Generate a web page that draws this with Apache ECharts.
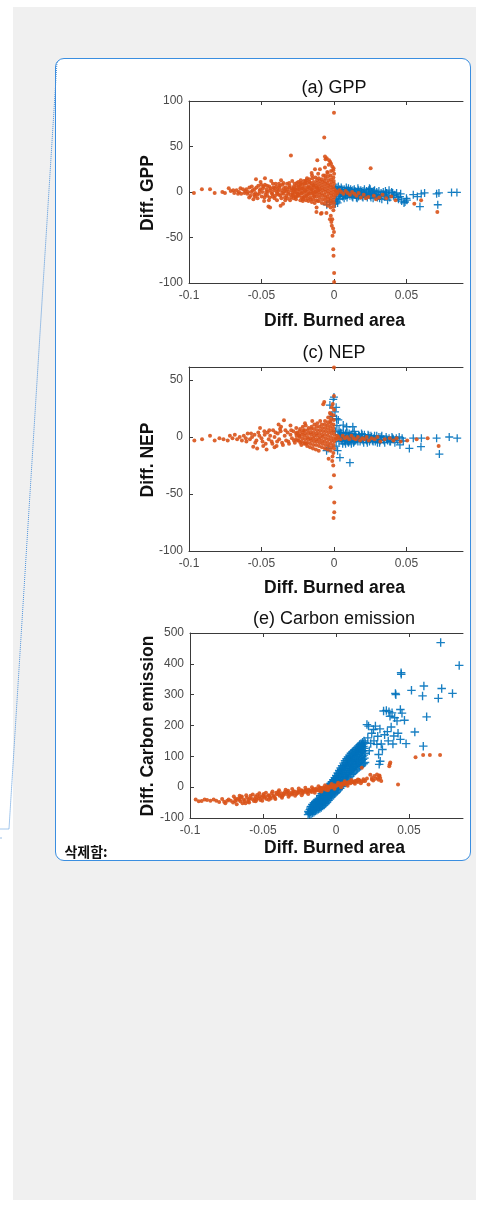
<!DOCTYPE html>
<html>
<head>
<meta charset="UTF-8">
<script src="https://cdn.jsdelivr.net/npm/echarts@6/dist/echarts.min.js"></script>
<style>
  html, body { margin: 0; padding: 0; background: #fff; }
  #page { position: absolute; left: 13px; top: 7px; width: 463px; height: 1193px; background: #f0f0f0; }
  #box { position: absolute; left: 55px; top: 58px; width: 414px; height: 801px; background: #fff;
         border: 1.3px solid #3a8ee0; border-radius: 9px; }
  #chart { position: absolute; left: 0; top: 0; width: 483px; height: 1214px; }
</style>
</head>
<body>
<div id="page"></div>
<div id="box"></div>
<div id="chart"></div>

<script type="text/javascript">
    // tick labels
    var xTicks = [-0.1, -0.05, 0, 0.05];
    var gppTicks = [-100, -50, 0, 50, 100];
    var nepTicks = [-100, -50, 0, 50];
    var ceTicks = [-100, 0, 100, 200, 300, 400, 500];

    // (a) GPP  -- [diff burned area, diff GPP]
    var gppOrange = [
        [-0.0966,-1],[-0.0911,3],[-0.0855,3],[-0.0823,-1],[-0.0770,0],[-0.0752,-1],[-0.0726,4],[-0.0712,1],[-0.0695,2],[-0.0688,-1],
        [-0.0672,2],[-0.0662,-2],[-0.0655,0],[-0.0645,4],[-0.0640,-2],[-0.0628,3],[-0.0618,-1],[-0.0612,1],[-0.0604,3],[-0.0598,-2],
        [-0.0592,0],[-0.0583,5],[-0.0576,-4],[-0.0570,0],[-0.0561,2],[-0.0556,-8],[-0.0548,3],[-0.0545,-5],[-0.0543,-1],[-0.0538,14],
        [-0.0535,5],[-0.0530,-3],[-0.0522,7],[-0.0517,-2],[-0.0513,1],[-0.0509,3],[-0.0506,11],[-0.0498,-5],[-0.0494,0],[-0.0490,4],
        [-0.0486,6],[-0.0482,-10],[-0.0476,8],[-0.0476,15],[-0.0472,-3],[-0.0468,0],[-0.0464,3],[-0.0460,-4],[-0.0456,0],[-0.0452,-16],
        [-0.0447,6],[-0.0443,-6],[-0.0441,-17],[-0.0440,2],[-0.0437,4],[-0.0433,12],[-0.0429,-1],[-0.0426,-2],[-0.0421,9],[-0.0418,5],
        [-0.0414,2],[-0.0410,-7],[-0.0406,-4],[-0.0402,9],[-0.0398,6],[-0.0396,0],[-0.0391,-2],[-0.0388,3],[-0.0384,1],[-0.0381,-3],
        [-0.0377,5],[-0.0373,7],[-0.0369,-4],[-0.0368,-15],[-0.0365,13],[-0.0361,2],[-0.0358,-1],[-0.0354,8],[-0.0351,-13],[-0.0347,-2],
        [-0.0345,4],[-0.0341,1],[-0.0338,-6],[-0.0334,5],[-0.0331,1],[-0.0327,-4],[-0.0324,9],[-0.0320,3],[-0.0317,-2],[-0.0313,0],
        [-0.0310,5],[-0.0306,7],[-0.0303,-9],[-0.0299,-3],[-0.0297,40],[-0.0294,2],[-0.0291,4],[-0.0288,12],[-0.0285,-1],[-0.0282,-4],
        [-0.0276,6],[-0.0272,9],[-0.0269,0],[-0.0265,-6],[-0.0262,-8],[-0.0256,10],[-0.0252,-2],[-0.0249,3],[-0.0246,11],[-0.0242,-3],
        [-0.0236,7],[-0.0232,-9],[-0.0229,13],[-0.0226,10],[-0.0223,-1],[-0.0216,4],[-0.0213,-8],[-0.0211,-6],[-0.0207,12],[-0.0204,9],
        [-0.0198,1],[-0.0193,-9],[-0.0191,-4],[-0.0188,13],[-0.0186,15],[-0.0179,5],[-0.0176,-10],[-0.0173,-2],[-0.0170,14],[-0.0167,11],
        [-0.0161,-8],[-0.0156,3],[-0.0154,21],[-0.0153,-11],[-0.0151,18],[-0.0148,15],[-0.0146,-1],[-0.0141,7],[-0.0136,-5],[-0.0133,-12],
        [-0.0131,25],[-0.0128,16],[-0.0127,0],[-0.0121,-22],[-0.0120,-17],[-0.0117,5],[-0.0115,35],[-0.0112,-10],[-0.0109,20],[-0.0105,2],
        [-0.0097,25],[-0.0090,-24],[-0.0085,-23],[-0.0074,18],[-0.0067,60],[-0.0062,39],[-0.0062,27],[-0.0058,36],[-0.0052,-23],[-0.0050,37],
        [-0.0046,22],[-0.0036,30],[-0.0034,35],[-0.0026,33],[-0.0020,31],[-0.0012,28],[-0.0005,24],
        [-0.0585,-6],[-0.0567,6],[-0.0551,-3],[-0.0527,-7],[-0.0502,8],[-0.0479,-6],[-0.0461,7],[-0.0449,-9],[-0.0423,-5],[-0.0409,4],
        [-0.0393,-9],[-0.0379,9],[-0.0363,-7],[-0.0349,10],[-0.0336,-9],[-0.0322,-7],[-0.0309,10],[-0.0296,-6],[-0.0279,-7],[-0.0270,3],
        [-0.0253,-4],[-0.0233,9],[-0.0215,-10],[-0.0196,12],
        // dense wedge near zero
        [-0.0282,-3],[-0.0279,1],[-0.0276,4],
        [-0.0262,-5],[-0.0259,-1],[-0.0263,3],[-0.0257,7],
        [-0.0243,-4],[-0.0241,0],[-0.0238,3],[-0.0244,6],
        [-0.0223,-6],[-0.0221,-2],[-0.0219,1],[-0.0224,4],[-0.0218,8],
        [-0.0203,-5],[-0.0201,-1],[-0.0199,2],[-0.0204,5],[-0.0197,9],
        [-0.0183,-7],[-0.0181,-3],[-0.0179,0],[-0.0184,3],[-0.0178,6],[-0.0182,10],
        [-0.0163,-6],[-0.0161,-2],[-0.0159,1],[-0.0164,4],[-0.0158,7],[-0.0162,10],
        [-0.0143,-8],[-0.0141,-4],[-0.0139,-1],[-0.0144,2],[-0.0138,5],[-0.0142,8],[-0.0140,11],
        [-0.0123,-9],[-0.0121,-5],[-0.0119,-2],[-0.0124,1],[-0.0118,4],[-0.0122,7],[-0.0120,10],[-0.0117,13],
        [-0.0103,-10],[-0.0101,-6],[-0.0099,-3],[-0.0104,0],[-0.0098,3],[-0.0102,6],[-0.0100,9],[-0.0097,12],[-0.0105,15],
        [-0.0083,-12],[-0.0081,-8],[-0.0079,-4],[-0.0084,-1],[-0.0078,2],[-0.0082,5],[-0.0080,8],[-0.0077,11],[-0.0085,14],
        [-0.0063,-13],[-0.0061,-9],[-0.0059,-6],[-0.0064,-3],[-0.0058,0],[-0.0062,3],[-0.0060,6],[-0.0057,9],[-0.0065,12],[-0.0059,15],[-0.0061,18],
        [-0.0043,-15],[-0.0041,-11],[-0.0039,-8],[-0.0044,-5],[-0.0038,-2],[-0.0042,1],[-0.0040,4],[-0.0037,7],[-0.0045,10],[-0.0039,13],[-0.0041,17],[-0.0043,21],
        [-0.0023,-17],[-0.0021,-13],[-0.0019,-10],[-0.0024,-7],[-0.0018,-4],[-0.0022,-1],[-0.0020,2],[-0.0017,5],[-0.0025,8],[-0.0019,11],[-0.0021,14],[-0.0023,18],[-0.0020,23],
        [-0.0004,-20],[-0.0002,-16],[0.0000,-12],[-0.0005,-9],[0.0001,-6],[-0.0003,-3],[-0.0001,0],[0.0002,3],[-0.0006,6],[0.0000,9],[-0.0002,12],[-0.0004,16],[0.0001,20],[-0.0003,26],
        // vertical spike
        [0.0000,87],[-0.0028,-30],[-0.0018,-33],[-0.0015,-37],[-0.0006,-40],[0.0000,-44],[-0.0010,-48],[-0.0022,-26],[-0.0012,-30],
        [-0.0005,-63],[-0.0003,-70],[0.0001,-89],[0.0001,-99],
        // thin strip into the blue band
        [0.0012,1],[0.0015,-3],[0.0020,0],[0.0025,-1],[0.0038,2],[0.0050,0],[0.0065,-2],[0.0080,1],[0.0095,-1],[0.0110,-3],
        [0.0125,0],[0.0140,-2],[0.0155,-4],[0.0170,-1],[0.0185,-6],[0.0205,-3],[0.0220,-7],[0.0237,-5.5],[0.0253,26],[0.0275,-4],
        [0.0290,-8],[0.0312,-6],[0.0335,-3],[0.0360,-7],[0.0395,-5],[0.0425,-9],[0.0554,-13],[0.0601,-9],[0.0713,-22]
    ];
    var gppBlue = [
        [-0.0050,-14],[-0.0030,-11],[0.0010,-13],[0.0020,-10],[0.0015,-7],[0.0030,-5],[0.0020,5],[0.0040,3],[0.0025,-12],[0.0035,-8],
        [0.0010,4],[0.0030,6],[0.0040,-3],[0.0050,5],[0.0050,-1],[0.0060,-5],[0.0060,1],[0.0070,3],[0.0070,-7],[0.0080,-2],
        [0.0080,-4],[0.0090,-6],[0.0090,2],[0.0100,4],[0.0110,-4],[0.0110,-1],[0.0120,1],[0.0120,-3],[0.0130,-6],[0.0130,2],
        [0.0140,3],[0.0140,-1],[0.0150,-3],[0.0160,-7],[0.0160,0],[0.0170,2],[0.0170,-5],[0.0180,-4],[0.0190,0],[0.0190,-3],
        [0.0200,-6],[0.0200,1],[0.0210,3],[0.0220,-2],[0.0220,-4],[0.0230,-6],[0.0240,2],[0.0240,-1],[0.0250,-4],[0.0250,3],
        [0.0260,0],[0.0270,-7],[0.0270,-2],[0.0280,2],[0.0290,-3],[0.0300,-6],[0.0310,1],[0.0320,-4],[0.0330,-8],[0.0340,0],
        [0.0350,-5],[0.0360,-1],[0.0363,-1],[0.0370,-9],[0.0380,2],[0.0398,0],[0.0410,-4],[0.0432,-1],[0.0445,-8],[0.0455,-5],
        [0.0467,-10],[0.0483,-12],[0.0490,-11],[0.0500,-7],[0.0503,-9],[0.0547,-3],[0.0575,-5],[0.0593,-16],[0.0602,-2],[0.0625,-1],
        [0.0708,-2],[0.0716,-14],[0.0724,-1],[0.0811,-0.5],[0.0848,-0.5],
        [0.0035,1],[0.0045,-2],[0.0055,3],[0.0065,-4],[0.0075,0],[0.0085,5],[0.0095,-3],[0.0105,0],[0.0115,3],[0.0125,-5],
        [0.0135,-2],[0.0145,1],[0.0155,-6],[0.0165,4],[0.0175,-1],[0.0185,2],[0.0195,-5],[0.0205,-1],[0.0215,-4],[0.0225,1],
        [0.0235,-3],[0.0245,4],[0.0255,-6],[0.0265,-2],[0.0275,1],[0.0285,-5],[0.0295,0],[0.0305,-3],[0.0315,-7],[0.0325,-1],
        [0.0345,-3],[0.0355,1],[0.0375,-4],[0.0385,-6],[0.0405,-1],[0.0420,-3],[0.0440,-6],[0.0460,-2]
    ];

    // (c) NEP  -- [diff burned area, diff NEP]
    var nepOrange = [
        [-0.0963,-3],[-0.0910,-2],[-0.0855,1],[-0.0823,-3],[-0.0790,-1],[-0.0762,-2],[-0.0733,-3],[-0.0718,1],[-0.0700,-1],[-0.0684,2],
        [-0.0668,-2],[-0.0650,0],[-0.0635,-3],[-0.0622,1],[-0.0608,-1],[-0.0595,3],[-0.0580,-2],[-0.0565,0],[-0.0557,-8.5],[-0.0548,2],
        [-0.0535,-3],[-0.0530,-10],[-0.0522,4],[-0.0510,8],[-0.0500,-1],[-0.0488,-8],[-0.0480,5],[-0.0478,2],[-0.0465,-11],[-0.0458,4],
        [-0.0450,-2],[-0.0440,1],[-0.0430,-4],[-0.0420,6],[-0.0410,0],[-0.0410,-9],[-0.0396,-8],[-0.0388,3],[-0.0382,11],[-0.0378,-2],
        [-0.0368,5],[-0.0365,9],[-0.0358,-5],[-0.0345,14.6],[-0.0340,1],[-0.0330,-3],[-0.0320,4],[-0.0310,-6],[-0.0300,2],[-0.0300,10],
        [-0.0290,-1],[-0.0280,5],[-0.0270,-5],[-0.0260,8],[-0.0250,-3],[-0.0240,1],[-0.0234,7],[-0.0225,-7],[-0.0215,9],[-0.0205,-6],
        [-0.0200,12],[-0.0195,10],[-0.0185,-8],[-0.0175,8],[-0.0165,-9],[-0.0154,9],[-0.0150,14],[-0.0145,-10],[-0.0135,11],[-0.0125,-11],
        [-0.0115,12],[-0.0105,-12],[-0.0095,14],[-0.0074,28.7],[-0.0067,30.7],[-0.0028,21],[-0.0025,14],[-0.0015,26],[-0.0008,29],
        [-0.0604,-4],[-0.0572,3],[-0.0543,-5],[-0.0515,1],[-0.0493,-4],[-0.0471,-6],[-0.0446,6],[-0.0425,-6],[-0.0403,4],[-0.0392,-4],
        [-0.0372,7],[-0.0352,-7],[-0.0335,6],[-0.0315,-4],[-0.0295,6],[-0.0276,-3],[-0.0255,4],[-0.0232,-5],[-0.0212,6],[-0.0192,-6],
        // dense wedge near zero
        [-0.0262,-2],[-0.0258,1],[-0.0261,3],
        [-0.0243,-3],[-0.0239,0],[-0.0242,2],[-0.0238,5],
        [-0.0223,-4],[-0.0219,-1],[-0.0222,2],[-0.0218,4],
        [-0.0203,-5],[-0.0199,-2],[-0.0202,1],[-0.0198,3],[-0.0201,6],
        [-0.0183,-5],[-0.0179,-2],[-0.0182,0],[-0.0178,3],[-0.0181,6],
        [-0.0163,-6],[-0.0159,-3],[-0.0162,-1],[-0.0158,2],[-0.0161,4],[-0.0157,7],
        [-0.0143,-7],[-0.0139,-4],[-0.0142,-1],[-0.0138,1],[-0.0141,4],[-0.0137,7],
        [-0.0123,-7],[-0.0119,-4],[-0.0122,-2],[-0.0118,1],[-0.0121,3],[-0.0117,6],[-0.0120,9],
        [-0.0103,-8],[-0.0099,-5],[-0.0102,-2],[-0.0098,0],[-0.0101,3],[-0.0097,6],[-0.0100,9],
        [-0.0083,-9],[-0.0079,-6],[-0.0082,-3],[-0.0078,0],[-0.0081,2],[-0.0077,5],[-0.0080,8],[-0.0084,11],
        [-0.0063,-10],[-0.0059,-7],[-0.0062,-4],[-0.0058,-1],[-0.0061,2],[-0.0057,5],[-0.0060,8],[-0.0064,11],[-0.0062,14],
        [-0.0043,-11],[-0.0039,-8],[-0.0042,-5],[-0.0038,-2],[-0.0041,1],[-0.0037,4],[-0.0040,7],[-0.0044,10],[-0.0042,13],[-0.0040,17],
        [-0.0023,-12],[-0.0019,-9],[-0.0022,-6],[-0.0018,-3],[-0.0021,0],[-0.0017,3],[-0.0020,6],[-0.0024,9],[-0.0022,12],[-0.0020,16],[-0.0021,20],
        [-0.0004,-14],[0.0000,-10],[-0.0003,-7],[0.0001,-4],[-0.0002,-1],[0.0002,2],[-0.0001,5],[-0.0005,8],[-0.0003,11],[-0.0001,15],[-0.0004,19],[0.0000,24],
        [0.0018,-2],[0.0021,1],
        // vertical spike
        [0.0000,36],[0.0000,61],[-0.0010,-17],[-0.0037,-19],[-0.0012,-21],[-0.0005,-25],[0.0000,-33.6],[-0.0023,-44],[0.0002,-57.5],
        [0.0002,-66],[-0.0003,-71],
        // strip to the right
        [0.0015,-1],[0.0030,0],[0.0045,-2],[0.0060,1],[0.0075,-1],[0.0090,0],[0.0105,-2],[0.0120,1],[0.0135,-1],[0.0150,-2],
        [0.0165,0],[0.0180,-3],[0.0195,-1],[0.0210,-2],[0.0225,0],[0.0240,-3],[0.0260,-1],[0.0280,-2],[0.0300,0],[0.0320,-4],
        [0.0350,-2],[0.0385,-1],[0.0410,-3],[0.0432,-1],[0.0460,-4],[0.0505,-3],[0.0570,-2],[0.0646,-1],[0.0722,-8]
    ];
    var nepBlue = [
        [0.0000,35],[-0.0028,28],[-0.0005,33],[0.0007,22],[0.0015,26],[-0.0010,18],[0.0018,16],[0.0020,10],[0.0030,15],[0.0064,10.5],
        [0.0087,9],[0.0130,9],[-0.0051,-12],[-0.0040,-10],[0.0041,-18],[0.0110,-22.5],[0.0015,-8],[0.0025,-12],[0.0010,5],[0.0035,6],
        [0.0035,-4],[0.0045,4],[0.0040,2],[0.0050,-3],[0.0050,3],[0.0060,1],[0.0060,-6],[0.0070,-4],[0.0070,0],[0.0080,3],
        [0.0080,-6],[0.0090,-2],[0.0090,4],[0.0100,1],[0.0100,-5],[0.0110,-4],[0.0110,-1],[0.0120,2],[0.0120,-6],[0.0130,-1],
        [0.0130,3],[0.0140,-4],[0.0140,5],[0.0150,1],[0.0150,-3],[0.0160,-2],[0.0170,2],[0.0170,-1],[0.0180,-4],[0.0190,0],
        [0.0190,3],[0.0200,-3],[0.0210,2],[0.0220,-2],[0.0230,-5],[0.0240,1],[0.0250,-2],[0.0260,0],[0.0270,-4],[0.0280,1],
        [0.0290,-2],[0.0300,-5],[0.0310,0],[0.0320,-3],[0.0330,1],[0.0340,-2],[0.0350,-5],[0.0360,0],[0.0370,-3],[0.0380,-1],
        [0.0390,-4],[0.0400,0],[0.0410,-2],[0.0420,-5],[0.0430,-1],[0.0440,-3],[0.0450,0],[0.0455,-7],[0.0470,-1],[0.0478,-3.5],
        [0.0520,-10],[0.0547,-1],[0.0600,-8.5],[0.0603,-1],[0.0708,-1],[0.0727,-15],[0.0795,0],[0.0850,-1],
        [0.0055,-1],[0.0065,4],[0.0075,-3],[0.0085,1],[0.0095,-4],[0.0105,3],[0.0115,-2],[0.0125,0],[0.0135,-5],[0.0145,2],
        [0.0155,-1],[0.0165,-4],[0.0175,1],[0.0185,-2],[0.0195,2],[0.0205,-5],[0.0215,0],[0.0225,-3],[0.0235,2],[0.0245,-4],
        [0.0255,1],[0.0265,-3],[0.0275,-1],[0.0285,-4],[0.0295,1],[0.0305,-2],[0.0315,-5],[0.0325,0],[0.0345,-3],[0.0365,-2],
        [0.0385,-4],[0.0405,-1]
    ];

    // (e) Carbon emission  -- [diff burned area, diff carbon emission]
    var ceOrange = [
        [-0.0961,-40],[-0.0920,-45],[-0.0883,-42],[-0.0838,-40],[-0.0820,-44],[-0.0766,-47],[-0.0758,-52],[-0.0745,-44],[-0.0735,-40],[-0.0720,-44],
        [-0.0705,-50],[-0.0690,-37],[-0.0680,-42],[-0.0667,-37],[-0.0655,-46],[-0.0645,-30],[-0.0632,-40],[-0.0620,-52],[-0.0610,-34],[-0.0598,-42],
        [-0.0585,-28],[-0.0575,-38],[-0.0562,-45],[-0.0550,-31],[-0.0540,-25],[-0.0530,-36],[-0.0518,-42],[-0.0506,-33],[-0.0495,-22],[-0.0485,-30],
        [-0.0475,-38],[-0.0463,-26],[-0.0452,-33],[-0.0440,-20],[-0.0430,-28],[-0.0418,-35],[-0.0405,-23],[-0.0395,-15],[-0.0386,-28],[-0.0375,-20],
        [-0.0362,-26],[-0.0350,-16],[-0.0340,-22],[-0.0328,-12],[-0.0318,-25],[-0.0305,-18],[-0.0295,-20],[-0.0283,-14],[-0.0271,-22],[-0.0260,-13],
        [-0.0250,-18],[-0.0238,-10],[-0.0225,-16],[-0.0212,-12],[-0.0200,-17],[-0.0188,-8],[-0.0175,-13],[-0.0162,-9],[-0.0150,-12],[-0.0138,-5],
        [-0.0125,-9],[-0.0112,-3],[-0.0100,-7],[-0.0088,-1],[-0.0075,-5],[-0.0063,1],[-0.0050,-3],[-0.0038,4],[-0.0025,0],[-0.0013,6],
        [0.0000,3],[0.0012,9],[0.0025,6],[0.0038,12],[0.0050,8],[0.0062,14],[0.0075,10],[0.0088,17],[0.0100,13],[0.0112,19],
        [0.0125,15],[0.0138,21],[0.0150,17],[0.0162,22],[0.0175,18],[0.0188,26],[0.0189,20],[0.0200,20],[0.0212,28],[0.0223,9],
        // thicker band
        [-0.0692,-46],[-0.0660,-41],[-0.0625,-45],[-0.0590,-36],[-0.0556,-38],[-0.0524,-30],[-0.0490,-34],[-0.0458,-28],[-0.0424,-30],[-0.0392,-22],
        [-0.0358,-21],[-0.0324,-19],[-0.0290,-14],[-0.0256,-15],[-0.0232,-12],[-0.0206,-9],[-0.0182,-11],[-0.0156,-6],[-0.0132,-8],[-0.0106,-2],
        [-0.0082,-3],[-0.0056,2],[-0.0032,0],[-0.0006,5],[0.0018,7],[0.0044,10],[0.0068,11],[0.0094,15],[0.0118,16],[0.0144,19],
        [-0.0650,-33],[-0.0602,-47],[-0.0545,-40],[-0.0500,-27],[-0.0446,-37],[-0.0410,-18],[-0.0370,-30],[-0.0335,-15],[-0.0300,-24],[-0.0265,-19],
        [-0.0228,-20],[-0.0194,-14],[-0.0166,-16],[-0.0140,-10],[-0.0116,-12],[-0.0092,-6],[-0.0068,-8],[-0.0044,-2],[-0.0019,3],[0.0006,6],
        [0.0031,9],[0.0056,13],[0.0081,14],[0.0106,18],[0.0131,20],[0.0156,24],
        [-0.0700,-30],[-0.0680,-55],[-0.0660,-28],[-0.0640,-52],[-0.0615,-26],[-0.0595,-50],[-0.0570,-24],[-0.0550,-46],[-0.0525,-20],[-0.0505,-44],
        [-0.0480,-18],[-0.0460,-41],[-0.0435,-14],[-0.0415,-38],[-0.0390,-10],[-0.0370,-34],[-0.0345,-8],[-0.0325,-31],[-0.0300,-6],[-0.0280,-28],
        [-0.0255,-4],[-0.0235,-26],[-0.0210,-2],[-0.0190,-22],[-0.0165,0],[-0.0145,-18],[-0.0120,3],[-0.0100,-14],[-0.0075,6],[-0.0055,-10],
        [-0.0030,10],[-0.0010,-5],[0.0015,14],[0.0035,0],[0.0060,19],[0.0080,5],[0.0105,23],[0.0130,11],[0.0150,25],[0.0170,13],
        [-0.0780,-38],[-0.0800,-48],[-0.0860,-44],[-0.0900,-40],[-0.0940,-46],
        // scattered points to the right
        [0.0177,63],[0.0235,40],[0.0246,30],[0.0246,25],[0.0255,22],[0.0262,36],[0.0270,27],[0.0281,41],[0.0286,30],[0.0292,24],
        [0.0296,36],[0.0298,38],[0.0303,30],[0.0310,20],[0.0365,68],[0.0368,74],[0.0372,80],[0.0425,9],[0.0545,97],[0.0597,104],
        [0.0643,104],[0.0713,104]
    ];
    var ceBlue = [
        // steep band
        [-0.0191,-89],[-0.0189,-79],[-0.0181,-86],[-0.0179,-73],
        [-0.0171,-88],[-0.0169,-75],[-0.0172,-63],
        [-0.0161,-84],[-0.0159,-69],[-0.0162,-56],
        [-0.0151,-81],[-0.0149,-66],[-0.0152,-51],
        [-0.0141,-77],[-0.0139,-61],[-0.0142,-47],
        [-0.0131,-75],[-0.0129,-58],[-0.0132,-42],
        [-0.0121,-72],[-0.0119,-55],[-0.0122,-40],
        [-0.0111,-69],[-0.0109,-53],[-0.0112,-38],[-0.0108,-28],
        [-0.0101,-66],[-0.0099,-50],[-0.0102,-34],[-0.0098,-21],
        [-0.0091,-61],[-0.0089,-46],[-0.0092,-30],[-0.0088,-15],
        [-0.0081,-58],[-0.0079,-41],[-0.0082,-26],[-0.0078,-10],
        [-0.0071,-53],[-0.0069,-38],[-0.0072,-22],[-0.0068,-5],
        [-0.0061,-48],[-0.0059,-32],[-0.0062,-16],[-0.0058,1],
        [-0.0051,-43],[-0.0049,-28],[-0.0052,-12],[-0.0048,6],
        [-0.0041,-38],[-0.0039,-22],[-0.0042,-6],[-0.0038,12],
        [-0.0031,-32],[-0.0029,-16],[-0.0032,1],[-0.0028,18],
        [-0.0021,-26],[-0.0019,-10],[-0.0022,6],[-0.0018,24],
        [-0.0011,-22],[-0.0009,-4],[-0.0012,14],[-0.0008,31],
        [-0.0001,-18],[0.0001,0],[-0.0002,18],[0.0002,38],
        [0.0009,-13],[0.0011,6],[0.0008,26],[0.0012,46],
        [0.0019,-8],[0.0021,12],[0.0018,32],[0.0022,54],
        [0.0029,-4],[0.0031,18],[0.0028,40],[0.0032,62],
        [0.0039,2],[0.0041,24],[0.0038,46],[0.0042,70],
        [0.0049,8],[0.0051,30],[0.0048,54],[0.0052,78],
        [0.0059,14],[0.0061,36],[0.0058,60],[0.0062,86],
        [0.0069,20],[0.0071,42],[0.0068,66],[0.0072,92],
        [0.0079,26],[0.0081,48],[0.0078,72],[0.0082,98],
        [0.0089,30],[0.0091,54],[0.0088,78],[0.0092,104],
        [0.0099,36],[0.0101,60],[0.0098,84],[0.0102,110],
        [0.0109,42],[0.0111,66],[0.0108,90],[0.0112,114],
        [0.0119,46],[0.0121,72],[0.0118,96],[0.0122,118],
        [0.0129,52],[0.0131,78],[0.0128,100],[0.0132,122],
        [0.0139,56],[0.0141,82],[0.0138,106],[0.0142,128],
        [0.0149,60],[0.0151,88],[0.0148,112],[0.0152,133],
        [0.0159,64],[0.0161,92],[0.0158,118],[0.0162,138],
        [0.0169,68],[0.0171,96],[0.0168,122],[0.0172,142],
        [0.0179,72],[0.0181,100],[0.0178,128],[0.0182,146],
        [0.0189,76],[0.0191,104],[0.0188,132],[0.0192,150],
        [0.0199,80],[0.0201,110],[0.0200,144],
        // in-between columns of the band
        [-0.0185,-83],[-0.0175,-80],[-0.0176,-68],[-0.0165,-77],[-0.0166,-62],[-0.0155,-74],[-0.0156,-58],[-0.0145,-70],[-0.0146,-54],[-0.0135,-67],
        [-0.0136,-50],[-0.0125,-64],[-0.0126,-47],[-0.0115,-61],[-0.0116,-45],[-0.0105,-58],[-0.0106,-42],[-0.0104,-27],[-0.0095,-54],[-0.0096,-38],
        [-0.0094,-22],[-0.0085,-50],[-0.0086,-34],[-0.0084,-18],[-0.0075,-46],[-0.0076,-30],[-0.0074,-13],[-0.0065,-41],[-0.0066,-24],[-0.0064,-8],
        [-0.0055,-36],[-0.0056,-20],[-0.0054,-2],[-0.0045,-31],[-0.0046,-14],[-0.0044,4],[-0.0035,-25],[-0.0036,-8],[-0.0034,10],[-0.0025,-20],
        [-0.0026,-2],[-0.0024,16],[-0.0015,-15],[-0.0016,4],[-0.0014,22],[-0.0005,-10],[-0.0006,9],[-0.0004,28],[0.0005,-5],[0.0004,16],
        [0.0006,36],[0.0015,0],[0.0014,22],[0.0016,44],[0.0025,6],[0.0024,30],[0.0026,52],[0.0035,12],[0.0034,36],[0.0036,58],
        [0.0045,18],[0.0044,42],[0.0046,66],[0.0055,24],[0.0054,48],[0.0056,72],[0.0065,30],[0.0064,54],[0.0066,80],[0.0075,36],
        [0.0074,60],[0.0076,86],[0.0085,42],[0.0084,66],[0.0086,92],[0.0095,48],[0.0094,72],[0.0096,98],[0.0105,54],[0.0104,78],
        [0.0106,102],[0.0115,58],[0.0114,84],[0.0116,106],[0.0125,64],[0.0124,88],[0.0126,110],[0.0135,68],[0.0134,94],[0.0136,116],
        [0.0145,74],[0.0144,100],[0.0146,122],[0.0155,78],[0.0154,104],[0.0156,126],[0.0165,82],[0.0164,110],[0.0166,132],[0.0175,86],
        [0.0174,114],[0.0176,136],[0.0185,90],[0.0184,118],[0.0186,140],[0.0195,94],[0.0194,126],
        // scattered upper points
        [0.0212,203],[0.0218,160],[0.0223,198],[0.0228,118],[0.0238,142],[0.0245,175],[0.0257,187],[0.0260,150],[0.0270,198],[0.0280,139],
        [0.0286,165],[0.0292,106],[0.0301,189],[0.0303,84],[0.0296,74],[0.0310,140],[0.0318,122],[0.0326,247],[0.0333,170],[0.0345,249],
        [0.0352,180],[0.0358,150],[0.0363,245],[0.0370,230],[0.0378,195],[0.0384,241],[0.0390,140],[0.0396,166],[0.0402,225],[0.0407,304],
        [0.0410,300],[0.0418,215],[0.0425,175],[0.0441,252],[0.0441,155],[0.0446,371],[0.0447,366],[0.0452,240],[0.0469,217],[0.0480,141],
        [0.0517,314],[0.0540,179],[0.0593,296],[0.0598,133],[0.0602,328],[0.0621,228],[0.0701,288],[0.0717,469],[0.0724,320],[0.0798,304],
        [0.0844,395]
    ];

    var ORANGE = '#D95319';
    var BLUE = '#0072BD';
    var PLUS = 'path://M4.2,0H5.8V4.2H10V5.8H5.8V10H4.2V5.8H0V4.2H4.2Z';
    var AXIS = '#3a3a3a';
    var LABEL = '#4a4a4a';
    var TICKFONT = '"Liberation Sans", Arial, sans-serif';
    var BOLD = 'bold 17.5px "Liberation Sans", Arial, sans-serif';

    function fmtX(v) {
        return v === 0 ? '0' : String(Math.round(v * 100) / 100);
    }

    function xPair(g, xMax) {
        var line = {show: true, onZero: false, lineStyle: {color: AXIS, width: 1}};
        return [{
            gridIndex: g, type: 'value', min: -0.1, max: xMax, position: 'bottom',
            axisLine: line,
            axisTick: {inside: true, length: 4, customValues: xTicks, lineStyle: {color: AXIS}},
            axisLabel: {customValues: xTicks, formatter: fmtX, margin: 7, fontSize: 12,
                        fontFamily: TICKFONT, color: LABEL},
            splitLine: {show: false}
        }, {
            gridIndex: g, type: 'value', min: -0.1, max: xMax, position: 'top',
            axisLine: line,
            axisTick: {inside: true, length: 4, customValues: xTicks, lineStyle: {color: AXIS}},
            axisLabel: {show: false},
            splitLine: {show: false}
        }];
    }

    function yAxis(g, min, max, ticks) {
        return {
            gridIndex: g, type: 'value', min: min, max: max, position: 'left',
            axisLine: {show: true, onZero: false, lineStyle: {color: AXIS, width: 1}},
            axisTick: {inside: true, length: 4, customValues: ticks, lineStyle: {color: AXIS}},
            axisLabel: {customValues: ticks, margin: 6, fontSize: 12, fontFamily: TICKFONT, color: LABEL},
            splitLine: {show: false}
        };
    }

    function dots(data, xi, yi) {
        return {type: 'scatter', xAxisIndex: xi, yAxisIndex: yi, data: data, z: 3,
                symbol: 'circle', symbolSize: 4,
                itemStyle: {color: ORANGE, opacity: 0.9}};
    }

    function pluses(data, xi, yi, size) {
        return {type: 'scatter', xAxisIndex: xi, yAxisIndex: yi, data: data, z: 2,
                symbol: PLUS, symbolSize: size,
                itemStyle: {color: BLUE, opacity: 0.9}};
    }

    function label(text, x, y, font, rot) {
        return {type: 'text', x: x, y: y, rotation: rot || 0, silent: true,
                style: {text: text, font: font, fill: '#111',
                        align: 'center', verticalAlign: 'middle',
                        textAlign: 'center', textVerticalAlign: 'middle'}};
    }

    var myChart = echarts.init(document.getElementById('chart'));
    var option = {
        animation: false,
        backgroundColor: 'transparent',
        grid: [
            {left: 189, top: 101, width: 274, height: 182},
            {left: 189, top: 367, width: 274, height: 184},
            {left: 190, top: 633, width: 273, height: 185}
        ],
        xAxis: [].concat(xPair(0, 0.089), xPair(1, 0.089), xPair(2, 0.087)),
        yAxis: [
            yAxis(0, -100, 100, gppTicks),
            yAxis(1, -100, 61.4, nepTicks),
            yAxis(2, -100, 500, ceTicks)
        ],
        series: [
            pluses(gppBlue, 0, 0, 8),
            dots(gppOrange, 0, 0),
            pluses(nepBlue, 2, 1, 8),
            dots(nepOrange, 2, 1),
            pluses(ceBlue, 4, 2, 8.5),
            dots(ceOrange, 4, 2)
        ],
        graphic: [
            label('(a) GPP', 334, 88, '18px "Liberation Sans", Arial, sans-serif'),
            label('(c) NEP', 334, 353, '18px "Liberation Sans", Arial, sans-serif'),
            label('(e) Carbon emission', 334, 619, '18px "Liberation Sans", Arial, sans-serif'),
            label('Diff. Burned area', 334.5, 321, BOLD),
            label('Diff. Burned area', 334.5, 588, BOLD),
            label('Diff. Burned area', 334.5, 848, BOLD),
            label('Diff. GPP', 148, 193, BOLD, Math.PI / 2),
            label('Diff. NEP', 148, 460, BOLD, Math.PI / 2),
            label('Diff. Carbon emission', 148, 726, BOLD, Math.PI / 2),
            label('삭제함:', 86, 852, 'bold 14px "Noto Sans CJK KR", sans-serif'),
            {type: 'polyline', silent: true,
             shape: {points: [[57, 62], [9, 829], [0, 829]]},
             style: {stroke: '#4a90da', lineWidth: 1, lineDash: [1, 1], fill: null}},
            {type: 'line', silent: true,
             shape: {x1: 0, y1: 838, x2: 2, y2: 838},
             style: {stroke: '#9bbfe6', lineWidth: 1}}
        ]
    };
    myChart.setOption(option);
</script>
</body>
</html>
